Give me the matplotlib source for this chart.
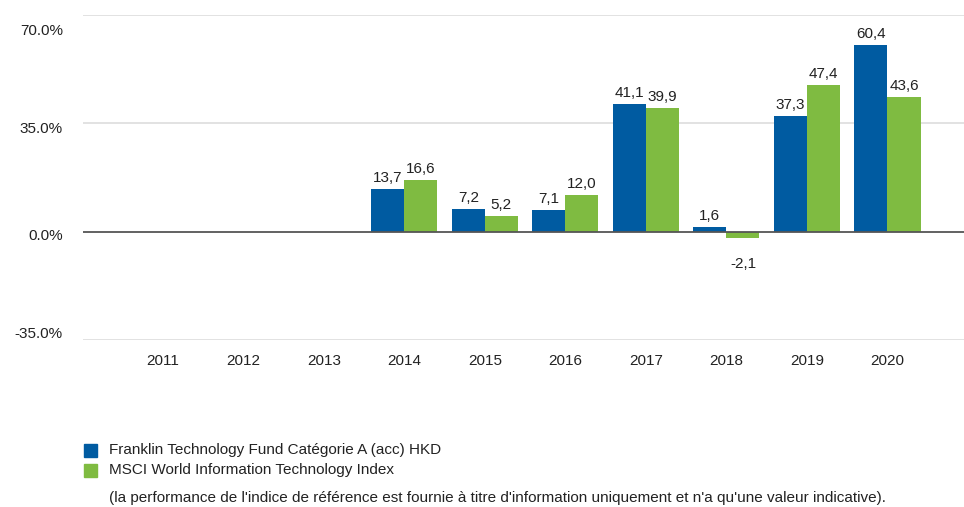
import matplotlib.pyplot as plt
import numpy as np
from matplotlib.patches import Rectangle
from matplotlib.transforms import ScaledTranslation

plt.rcParams['font.family'] = ['Liberation Sans', 'DejaVu Sans']

years = ['2011', '2012', '2013', '2014', '2015', '2016', '2017', '2018', '2019', '2020']
fund = [None, None, None, 13.7, 7.2, 7.1, 41.1, 1.6, 37.3, 60.4]
index = [None, None, None, 16.6, 5.2, 12.0, 39.9, -2.1, 47.4, 43.6]
fund_name = "Franklin Technology Fund Catégorie A (acc) HKD"
index_name = "MSCI World Information Technology Index"
note = "(la performance de l'indice de référence est fournie à titre d'information uniquement et n'a qu'une valeur indicative)."

blue = '#005BA1'
green = '#7FBB41'
fs = 11

fig = plt.figure(figsize=(9.64, 5.07), dpi=100)
ax = fig.add_axes([0.0861, 0.3294, 0.9139, 0.641])

x = np.arange(len(years))
w = 0.41

def fmt(v):
    return ('%.1f' % v).replace('.', ',')

for i in range(len(years)):
    if fund[i] is not None:
        ax.bar(x[i] - w / 2, fund[i], w, color=blue, zorder=3)
        ax.text(x[i] - w / 2, fund[i] + 1.3, fmt(fund[i]), ha='center', va='bottom', fontsize=fs, color='#222222')
    if index[i] is not None:
        ax.bar(x[i] + w / 2, index[i], w, color=green, zorder=3)
        if index[i] >= 0:
            ax.text(x[i] + w / 2, index[i] + 1.3, fmt(index[i]), ha='center', va='bottom', fontsize=fs, color='#222222')
        else:
            ax.text(x[i] + w / 2, index[i] - 6.0, fmt(index[i]), ha='center', va='top', fontsize=fs, color='#222222')

ax.set_xlim(-0.99, 9.95)
ax.set_ylim(-35, 70)
ax.set_yticks([-35, 0, 35, 70])
ax.set_yticklabels(['-35.0%', '0.0%', '35.0%', '70.0%'])
ax.set_xticks(x)
ax.set_xticklabels(years)
ax.tick_params(length=0, labelsize=fs, colors='#222222')
ax.tick_params(axis='y', pad=14.5)
ax.tick_params(axis='x', pad=10)
# labels in the original sit a bit off their gridlines
shifts = [7, -3, -4, -14]
for lab, dy in zip(ax.get_yticklabels(), shifts):
    lab.set_transform(lab.get_transform() + ScaledTranslation(0, dy / 100, fig.dpi_scale_trans))

for yv in [-35, 35, 70]:
    ax.axhline(yv, color='#dddddd', lw=1.2, zorder=1)
ax.axhline(0, color='#555555', lw=1.3, zorder=4)
for s in ax.spines.values():
    s.set_visible(False)

# legend
fig.patches.append(Rectangle((84 / 964, 1 - 457 / 507), 13 / 964, 13 / 507, transform=fig.transFigure, color=blue))
fig.patches.append(Rectangle((84 / 964, 1 - 477 / 507), 13 / 964, 13 / 507, transform=fig.transFigure, color=green))
fig.text(109 / 964, 1 - 450 / 507, fund_name, fontsize=fs, va='center', color='#222222')
fig.text(109 / 964, 1 - 470 / 507, index_name, fontsize=fs, va='center', color='#222222')
fig.text(109 / 964, 1 - 498 / 507, note, fontsize=fs, va='center', color='#222222')

fig.savefig('out.png', dpi=100)
